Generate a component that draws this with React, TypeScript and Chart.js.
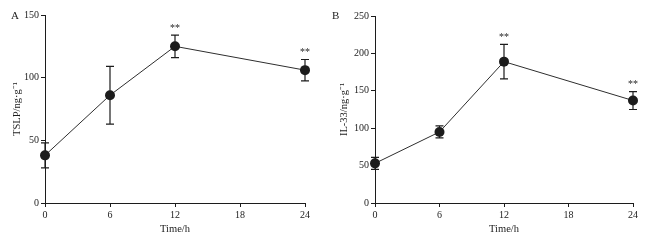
import React, { useEffect, useRef } from "react";
import { Chart, registerables } from "chart.js";

Chart.register(...registerables);

const hours = [0, 6, 12, 24];
const xTicks = [0, 6, 12, 18, 24];

const tslpMean = [38, 86, 125, 106];
const tslpErr = [10, 23, 9, 8.5];
const tslpSig = ["", "", "**", "**"];

const il33Mean = [53, 95, 189, 137];
const il33Err = [8, 8, 23, 12];
const il33Sig = ["", "", "**", "**"];

const FONT = "'Liberation Serif', 'Times New Roman', serif";
const INK = "#1c1c1c";

const errorPlugin = {
  id: "errbars",
  beforeDatasetsDraw(chart: any) {
    const { ctx, scales } = chart;
    const o = chart.options.plugins.errbars;
    const xs = scales.x;
    const ys = scales.y;
    ctx.save();
    ctx.strokeStyle = INK;
    ctx.lineWidth = 1.2;
    o.x.forEach((xv: number, i: number) => {
      const px = xs.getPixelForValue(xv);
      const top = ys.getPixelForValue(o.mean[i] + o.err[i]);
      const bot = ys.getPixelForValue(o.mean[i] - o.err[i]);
      ctx.beginPath();
      ctx.moveTo(px, top);
      ctx.lineTo(px, bot);
      ctx.moveTo(px - 4, top);
      ctx.lineTo(px + 4, top);
      ctx.moveTo(px - 4, bot);
      ctx.lineTo(px + 4, bot);
      ctx.stroke();
    });
    ctx.restore();
  },
  afterDatasetsDraw(chart: any) {
    const { ctx, scales } = chart;
    const o = chart.options.plugins.errbars;
    ctx.save();
    ctx.fillStyle = INK;
    ctx.font = `10px ${FONT}`;
    ctx.textAlign = "center";
    ctx.textBaseline = "middle";
    o.x.forEach((xv: number, i: number) => {
      if (!o.sig[i]) return;
      const px = scales.x.getPixelForValue(xv);
      const top = scales.y.getPixelForValue(o.mean[i] + o.err[i]);
      ctx.fillText(o.sig[i], px, top - 7);
    });
    ctx.restore();
  },
};

type PanelProps = {
  mean: number[];
  err: number[];
  sig: string[];
  yMax: number;
  yTitle: string;
  yWidth: number;
  titlePad: number;
  padRight: number;
  padTop: number;
};

function CanvasSized(p: PanelProps & { width: number }) {
  const ref = useRef<HTMLCanvasElement | null>(null);
  useEffect(() => {
    if (!ref.current) return;
    const chart = new Chart(ref.current, {
      type: "line",
      data: {
        datasets: [
          {
            data: hours.map((h, i) => ({ x: h, y: p.mean[i] })),
            borderColor: "#2e2e2e",
            borderWidth: 1,
            pointRadius: 5,
            pointBackgroundColor: INK,
            pointBorderWidth: 0,
            tension: 0,
            clip: false,
          },
        ],
      },
      options: {
        animation: false,
        responsive: false,
        maintainAspectRatio: false,
        layout: { padding: { left: 0, right: p.padRight, top: p.padTop, bottom: 0 } },
        plugins: {
          legend: { display: false },
          tooltip: { enabled: false },
          errbars: { x: hours, mean: p.mean, err: p.err, sig: p.sig },
        } as any,
        scales: {
          x: {
            type: "linear",
            min: 0,
            max: 24,
            afterBuildTicks: (s: any) => {
              s.ticks = xTicks.map((v) => ({ value: v }));
            },
            afterFit: (s: any) => {
              s.height = 37;
            },
            grid: { drawOnChartArea: false, drawTicks: true, tickLength: 4, color: INK, lineWidth: 1 },
            border: { display: true, color: INK, width: 1 },
            ticks: { color: INK, font: { family: FONT, size: 10 }, padding: 2, maxRotation: 0 },
            title: {
              display: true,
              text: "Time/h",
              color: INK,
              font: { family: FONT, size: 10.5 },
              padding: { top: 0, bottom: 4 },
            },
          },
          y: {
            type: "linear",
            min: 0,
            max: p.yMax,
            ticks: { stepSize: 50, color: INK, font: { family: FONT, size: 10 }, padding: 2 },
            afterFit: (s: any) => {
              s.width = p.yWidth;
            },
            grid: { drawOnChartArea: false, drawTicks: true, tickLength: 4, color: INK, lineWidth: 1 },
            border: { display: true, color: INK, width: 1 },
            title: {
              display: true,
              text: p.yTitle,
              color: INK,
              font: { family: FONT, size: 10.5 },
              padding: { top: p.titlePad, bottom: 0 },
            },
          },
        },
      },
      plugins: [errorPlugin],
    } as any);
    return () => chart.destroy();
  }, []);
  return <canvas ref={ref} width={p.width} height={240} style={{ display: "block", width: p.width, height: 240 }} />;
}

function PanelBox(props: PanelProps & { left: number; width: number; letter: string; letterX: number }) {
  const { left, width, letter, letterX, ...rest } = props;
  return (
    <div style={{ position: "absolute", left, top: 0, width, height: 240 }}>
      <CanvasSized width={width} {...rest} />
      <div
        style={{
          position: "absolute",
          left: letterX,
          top: 8,
          fontFamily: FONT,
          fontSize: 11,
          color: INK,
          lineHeight: "14px",
        }}
      >
        {letter}
      </div>
    </div>
  );
}

export default function App() {
  return (
    <div style={{ position: "fixed", left: 0, top: 0, width: 653, height: 240, background: "#fff" }}>
      <PanelBox
        left={0}
        width={323}
        letter="A"
        letterX={11}
        mean={tslpMean}
        err={tslpErr}
        sig={tslpSig}
        yMax={150}
        yTitle="TSLP/ng·g⁻¹"
        yWidth={45}
        titlePad={11}
        padRight={18}
        padTop={15}
      />
      <PanelBox
        left={323}
        width={330}
        letter="B"
        letterX={9}
        mean={il33Mean}
        err={il33Err}
        sig={il33Sig}
        yMax={250}
        yTitle="IL-33/ng·g⁻¹"
        yWidth={52}
        titlePad={15}
        padRight={20}
        padTop={16}
      />
    </div>
  );
}
